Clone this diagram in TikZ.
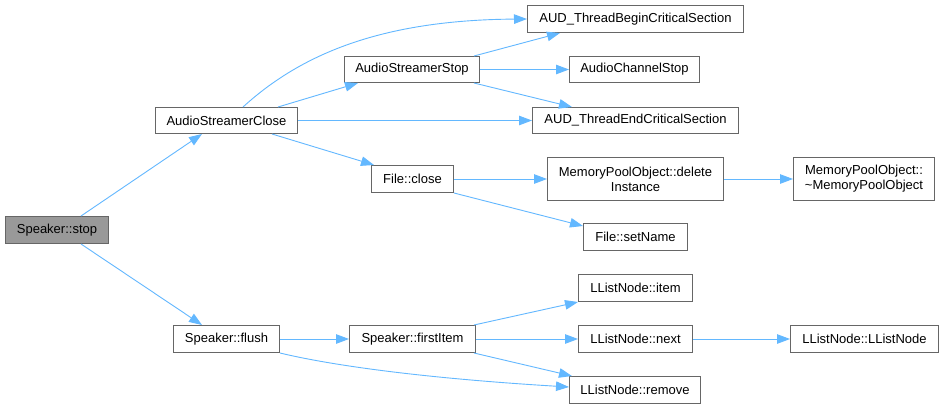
\documentclass[tikz,border=0pt]{standalone}
\usepackage{fontspec}
\setmainfont{Liberation Sans}
\usetikzlibrary{arrows.meta}
\definecolor{edgeblue}{HTML}{63B8FF}
\definecolor{boxborder}{HTML}{666666}
\definecolor{rootfill}{HTML}{999999}
\begin{document}
\begin{tikzpicture}[x=1pt,y=-1pt,
  box/.style={draw=boxborder, fill=white, line width=1pt, inner sep=0pt, align=center,
    anchor=north west, font=\fontsize{13}{15}\selectfont},
  edge/.style={draw=edgeblue, line width=0.9pt, -{Triangle[length=13pt,width=9.5pt]}}]
\useasboundingbox (0,0) rectangle (943,408);
\fill[white] (0,0) rectangle (943,408);
% nodes
\node[box, fill=rootfill, minimum width=103pt, minimum height=27pt] (stop) at (5,216) {Speaker::stop};
\node[box, minimum width=142pt, minimum height=26pt] (asc) at (155,107) {AudioStreamerClose};
\node[box, minimum width=216pt, minimum height=27pt] (begin) at (527,5) {AUD\_ThreadBeginCriticalSection};
\node[box, minimum width=135pt, minimum height=26pt] (ass) at (344,56) {AudioStreamerStop};
\node[box, minimum width=130pt, minimum height=26pt] (achs) at (569,56) {AudioChannelStop};
\node[box, minimum width=206pt, minimum height=26pt] (aend) at (532,107) {AUD\_ThreadEndCriticalSection};
\node[box, minimum width=82pt, minimum height=27pt] (fclose) at (371,165) {File::close};
\node[box, minimum width=176pt, minimum height=43pt] (dinst) at (547,157) {MemoryPoolObject::delete\\Instance};
\node[box, minimum width=141pt, minimum height=43pt] (mpo) at (793,157) {MemoryPoolObject::\\\textasciitilde MemoryPoolObject};
\node[box, minimum width=104pt, minimum height=27pt] (setname) at (583,223) {File::setName};
\node[box, minimum width=106pt, minimum height=27pt] (flush) at (173,325) {Speaker::flush};
\node[box, minimum width=126pt, minimum height=27pt] (first) at (349,325) {Speaker::firstItem};
\node[box, minimum width=114pt, minimum height=27pt] (item) at (578,274) {LListNode::item};
\node[box, minimum width=114pt, minimum height=27pt] (next) at (578,325) {LListNode::next};
\node[box, minimum width=148pt, minimum height=27pt] (llnode) at (790,325) {LListNode::LListNode};
\node[box, minimum width=131pt, minimum height=27pt] (remove) at (569,376) {LListNode::remove};
% edges
\draw[edge] ([xshift=-28pt]stop.north east) -- ([xshift=47pt]asc.south west);
\draw[edge] ([xshift=-28pt]stop.south east) -- ([xshift=29pt]flush.north west);
\draw[edge] ([xshift=88pt]asc.north west) .. controls (300,55) and (380,20) .. (begin.west);
\draw[edge] ([xshift=123pt]asc.north west) -- ([xshift=14pt]ass.south west);
\draw[edge] (asc.east) -- (aend.west);
\draw[edge] ([xshift=117pt]asc.south west) -- ([xshift=3pt]fclose.north west);
\draw[edge] ([xshift=-6pt]ass.north east) -- ([xshift=33pt]begin.south west);
\draw[edge] (ass.east) -- (achs.west);
\draw[edge] ([xshift=-6pt]ass.south east) -- ([xshift=40pt]aend.north west);
\draw[edge] (fclose.east) -- (dinst.west);
\draw[edge] (fclose.south east) -- ([yshift=-3pt]setname.north west);
\draw[edge] (dinst.east) -- (mpo.west);
\draw[edge] (flush.east) -- (first.west);
\draw[edge] (flush.south east) .. controls (330,365) and (420,378) .. ([yshift=3pt]remove.west);
\draw[edge] ([xshift=-2pt]first.north east) -- (item.south west);
\draw[edge] (first.east) -- (next.west);
\draw[edge] ([xshift=-2pt]first.south east) -- ([xshift=3pt]remove.north west);
\draw[edge] (next.east) -- (llnode.west);
\end{tikzpicture}
\end{document}
